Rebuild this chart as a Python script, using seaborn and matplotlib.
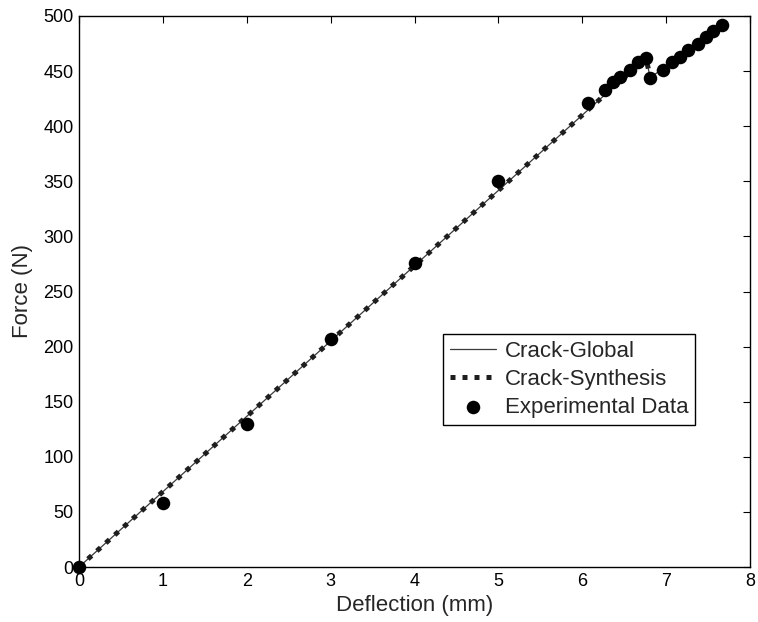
import matplotlib
matplotlib.use("Agg")
import matplotlib.pyplot as plt
import seaborn as sns
import pandas as pd

# Model curves (breakpoints)
model_x = [0.0, 6.76, 6.81, 7.68]
model_y = [0.0, 462.0, 444.0, 492.0]

# Experimental data
exp_x = [0.0, 1.0, 2.0, 3.0, 4.0, 5.0, 6.07, 6.27, 6.37, 6.45, 6.57, 6.67, 6.76,
         6.81, 6.96, 7.07, 7.16, 7.26, 7.38, 7.48, 7.56, 7.67]
exp_y = [0.0, 58.0, 130.0, 207.0, 276.0, 350.0, 421.0, 433.0, 440.0, 445.0, 451.0,
         458.0, 462.0, 444.0, 451.0, 458.0, 463.0, 469.0, 475.0, 481.0, 486.0, 492.0]

xticks = [0, 1, 2, 3, 4, 5, 6, 7, 8]
yticks = [0, 50, 100, 150, 200, 250, 300, 350, 400, 450, 500]

sns.set_style("white")
plt.rcParams['font.family'] = ['Liberation Sans', 'DejaVu Sans']

fig = plt.figure(figsize=(7.58, 6.22), dpi=100)
ax = fig.add_axes([79/758, 1-567/622, (750-79)/758, (567-16)/622])

df_model = pd.DataFrame({"x": model_x, "y": model_y})
df_exp = pd.DataFrame({"x": exp_x, "y": exp_y})

sns.lineplot(data=df_model, x="x", y="y", sort=False, ax=ax, color="#3a3a3a",
             linewidth=0.9, label="Crack-Global", zorder=2)
sns.lineplot(data=df_model, x="x", y="y", sort=False, ax=ax, color="#1e1e1e",
             linewidth=3.6, linestyle=(0, (1, 1.4)), label="Crack-Synthesis", zorder=3)
sns.scatterplot(data=df_exp, x="x", y="y", ax=ax, color="black", s=95,
                edgecolor="black", linewidth=0, label="Experimental Data",
                zorder=4, clip_on=False)

ax.set_xlim(0, 8)
ax.set_ylim(0, 500)
ax.set_xticks(xticks)
ax.set_yticks(yticks)
ax.set_xticklabels([str(t) for t in xticks])
ax.set_yticklabels([str(t) for t in yticks])
ax.tick_params(direction="in", top=True, right=True, length=5, width=0.8,
               labelsize=13, pad=4, colors="black")
for s in ax.spines.values():
    s.set_visible(True)
    s.set_color("black")
    s.set_linewidth(1.0)

ax.set_xlabel("Deflection (mm)", fontsize=16, labelpad=4)
ax.set_ylabel("Force (N)", fontsize=16, labelpad=7)

leg = ax.legend(loc="upper left", bbox_to_anchor=((443-79)/671, (567-334)/551),
                borderaxespad=0, fontsize=16, frameon=True, fancybox=False,
                edgecolor="black", framealpha=1, handlelength=2.1,
                handletextpad=0.38, labelspacing=0.33, borderpad=0.3)
leg.get_frame().set_linewidth(1.0)

fig.savefig("out.png", dpi=100)
